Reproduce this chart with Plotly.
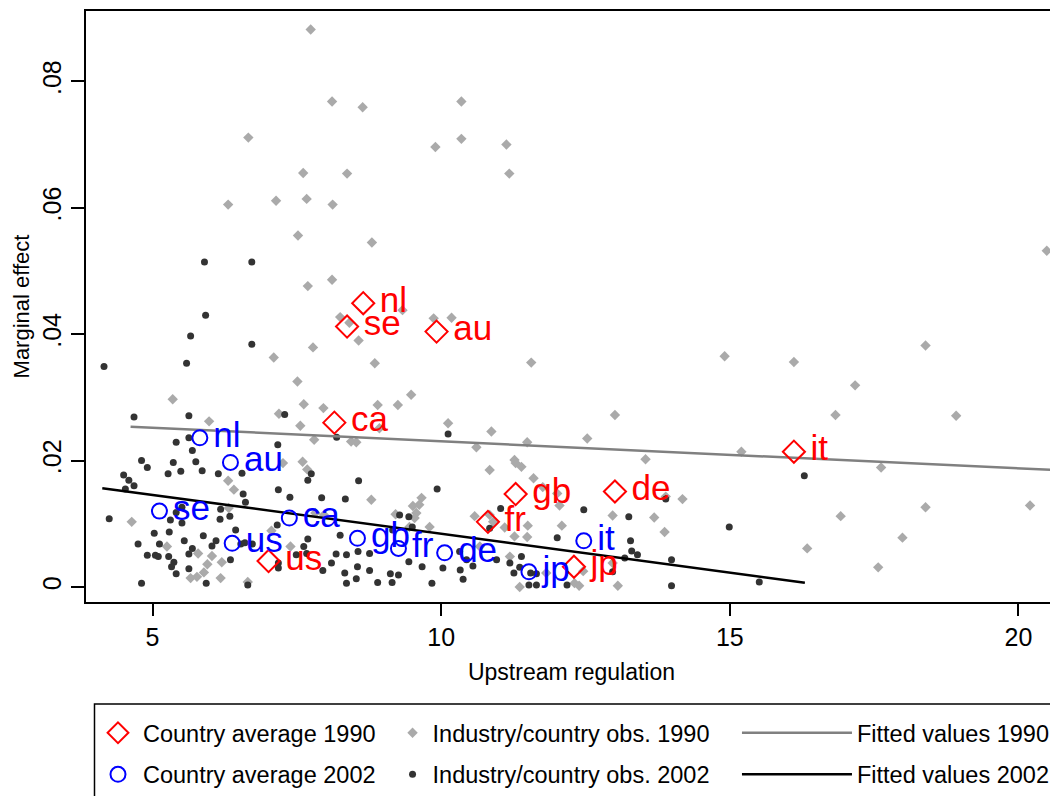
import plotly.graph_objects as go

# ---------------- data ----------------
obs1990_x = [7.74, 8.11, 8.64, 10.35, 9.90, 10.35, 11.13, 11.18, 6.66, 7.61,
             8.37, 6.31, 7.14, 7.67, 8.12, 7.52, 8.80, 8.11, 7.69, 8.25,
             8.41, 9.33, 9.87, 10.18, 8.57, 7.78, 7.10, 8.85, 11.56, 7.51,
             5.35, 7.62, 9.48, 8.90, 9.25, 14.91, 16.11, 18.39, 17.17, 16.83,
             18.92, 17.62, 16.92, 18.39, 20.20, 17.99, 17.57, 20.49, 13.01, 12.53,
             15.20, 13.54, 14.18, 13.89, 12.97, 13.69, 13.87, 16.34, 12.97, 12.46,
             12.39, 13.06,
             8.44, 8.53, 8.93, 10.12, 10.87, 10.61, 11.49, 11.27, 11.29, 11.39,
             10.84, 11.60, 11.76, 12.01, 12.05, 8.79, 9.66, 9.62, 9.51, 9.57,
             9.54, 9.21, 9.80, 9.45, 10.58, 10.84, 10.90, 11.10, 11.27, 11.50,
             11.49, 12.09, 10.67, 11.19, 11.82, 11.36, 12.31,
             5.98, 7.19, 7.96, 7.56, 7.80, 7.26, 7.60, 7.68, 6.31, 6.41,
             4.64, 6.32, 7.82, 7.97, 7.06, 5.25, 6.03, 5.79, 6.20, 5.95,
             5.89, 7.39, 5.66, 5.77, 6.18, 6.65]
obs1990_y = [0.0882, 0.0768, 0.0759, 0.0768, 0.0696, 0.0709, 0.0700, 0.0654, 0.0711, 0.0655,
             0.0654, 0.0605, 0.0611, 0.0614, 0.0605, 0.0556, 0.0545, 0.0486, 0.0476, 0.0427,
             0.0418, 0.0438, 0.0425, 0.0426, 0.0390, 0.0379, 0.0363, 0.0354, 0.0355, 0.0325,
             0.0297, 0.0289, 0.0304, 0.0288, 0.0288, 0.0365, 0.0356, 0.0382, 0.0319, 0.0272,
             0.0271, 0.0189, 0.0112, 0.0126, 0.0129, 0.0078, 0.0031, 0.0532, 0.0272, 0.0235,
             0.0214, 0.0202, 0.0139, 0.0143, 0.0113, 0.0110, 0.0087, 0.0061, 0.0038, 0.0025,
             0.0002, 0.0002,
             0.0230, 0.0229, 0.0251, 0.0259, 0.0246, 0.0221, 0.0229, 0.0201, 0.0196, 0.0190,
             0.0185, 0.0172, 0.0158, 0.0148, 0.0129, 0.0138, 0.0141, 0.0130, 0.0128, 0.0117,
             0.0109, 0.0115, 0.0095, 0.0095, 0.0112, 0.0114, 0.0103, 0.0094, 0.0080, 0.0097,
             0.0079, 0.0097, 0.0064, 0.0048, 0.0022, 0.0000, 0.0006,
             0.0262, 0.0274, 0.0283, 0.0255, 0.0233, 0.0196, 0.0198, 0.0186, 0.0168, 0.0154,
             0.0103, 0.0125, 0.0117, 0.0114, 0.0089, 0.0064, 0.0049, 0.0053, 0.0039, 0.0036,
             0.0023, 0.0064, 0.0014, 0.0016, 0.0014, 0.0008]

obs2002_x = [5.90, 6.72, 5.92, 5.66, 6.72, 5.59, 4.16, 4.68, 5.63, 7.29,
             5.41, 5.63, 5.69, 7.17, 4.81, 4.91, 5.36, 5.75, 5.27, 5.49,
             5.86, 6.14, 6.55, 4.50, 4.59, 4.68, 4.53, 7.75, 7.69, 7.18,
             6.57, 6.61, 7.38, 7.93, 4.25, 5.51, 5.41, 5.31, 5.51, 6.18,
             6.17, 6.34, 7.16, 5.03, 5.29, 5.88, 6.44, 5.55, 5.69, 6.03,
             6.10, 4.75, 5.12, 6.53, 6.60, 6.73, 4.91, 5.05, 5.10, 5.28,
             5.63, 6.35, 5.37, 5.33, 5.41, 5.63, 4.81, 5.93, 6.65, 7.18,
             7.18, 7.49, 7.62, 7.69, 7.67, 7.95, 8.10, 8.19, 10.12, 8.57,
             9.93, 8.34, 11.03, 9.28, 9.44, 9.50, 10.84, 9.16, 8.25, 12.01,
             8.18, 8.36, 8.56, 8.76,
             8.55, 8.76, 9.44, 9.67, 10.03, 10.33,
             10.44, 10.55, 10.32, 10.96, 11.19, 11.39, 8.33, 8.36, 8.53, 8.90,
             9.12, 9.26, 9.15, 9.84, 10.38, 11.26, 11.36, 11.55, 11.65, 11.52,
             11.65, 12.18, 16.29, 13.89, 12.47, 13.25, 14.99, 13.28, 13.30, 13.40,
             13.18, 13.99, 12.97, 13.99, 15.51]
obs2002_y = [0.0514, 0.0514, 0.0430, 0.0397, 0.0384, 0.0354, 0.0349, 0.0269, 0.0271, 0.0273,
             0.0229, 0.0236, 0.0216, 0.0225, 0.0200, 0.0189, 0.0197, 0.0198, 0.0179, 0.0183,
             0.0184, 0.0179, 0.0180, 0.0177, 0.0169, 0.0160, 0.0155, 0.0179, 0.0169, 0.0154,
             0.0147, 0.0134, 0.0142, 0.0141, 0.0108, 0.0126, 0.0118, 0.0106, 0.0101, 0.0123,
             0.0107, 0.0112, 0.0098, 0.0085, 0.0087, 0.0081, 0.0090, 0.0073, 0.0061, 0.0065,
             0.0073, 0.0068, 0.0068, 0.0068, 0.0070, 0.0068, 0.0050, 0.0050, 0.0048, 0.0048,
             0.0052, 0.0043, 0.0039, 0.0032, 0.0021, 0.0029, 0.0006, 0.0006, 0.0003, 0.0038,
             0.0030, 0.0051, 0.0064, 0.0076, 0.0053, 0.0026, 0.0038, 0.0237, 0.0242, 0.0168,
             0.0155, 0.0139, 0.0124, 0.0114, 0.0111, 0.0095, 0.0093, 0.0090, 0.0082, 0.0078,
             0.0052, 0.0051, 0.0056, 0.0053,
             0.0032, 0.0026, 0.0040, 0.0032, 0.0030, 0.0027,
             0.0043, 0.0033, 0.0056, 0.0043, 0.0038, 0.0048, 0.0022, 0.0006, 0.0013, 0.0007,
             0.0021, 0.0019, 0.0007, 0.0006, 0.0012, 0.0022, 0.0031, 0.0022, 0.0021, 0.0003,
             0.0003, 0.0003, 0.0176, 0.0139, 0.0122, 0.0111, 0.0095, 0.0073, 0.0057, 0.0051,
             0.0046, 0.0043, 0.0024, 0.0002, 0.0008]

countries = ["nl", "se", "au", "ca", "gb", "fr", "jp", "de", "it", "us"]
avg1990_x = [8.65, 8.37, 9.92, 8.15, 11.29, 10.81, 12.30, 13.01, 16.11, 7.01]
avg1990_y = [0.0449, 0.0412, 0.0404, 0.0260, 0.0147, 0.0103, 0.0032, 0.0151, 0.0214, 0.0041]
avg2002_x = [5.82, 5.12, 6.35, 7.37, 8.55, 9.26, 11.52, 10.06, 12.47, 6.38]
avg2002_y = [0.0236, 0.0120, 0.0197, 0.0109, 0.0077, 0.0061, 0.0024, 0.0054, 0.0073, 0.0069]

fit1990_x = [4.62, 20.55]
fit1990_y = [0.02536, 0.01853]
fit2002_x = [4.13, 16.30]
fit2002_y = [0.01563, 0.00068]

x_ticks = [5, 10, 15, 20]
y_ticks = [0, 0.02, 0.04, 0.06, 0.08]
y_ticktext = ["0", ".02", ".04", ".06", ".08"]

assert len(obs1990_x) == len(obs1990_y)
assert len(obs2002_x) == len(obs2002_y)

# ---------------- figure ----------------
FONT = "Liberation Sans, Arial, Helvetica, sans-serif"
fig = go.Figure()

fig.add_trace(go.Scatter(
    x=obs1990_x, y=obs1990_y, mode="markers", name="Industry/country obs. 1990",
    marker=dict(symbol="diamond", size=8, color="#aaaaaa"), legend="legend2",
    legendgroup="o90", legendrank=1))
fig.add_trace(go.Scatter(
    x=obs2002_x, y=obs2002_y, mode="markers", name="Industry/country obs. 2002",
    marker=dict(symbol="circle", size=7, color="#333333"), legend="legend2",
    legendgroup="o02", legendrank=2))
fig.add_trace(go.Scatter(
    x=fit1990_x, y=fit1990_y, mode="lines", name="Fitted values 1990",
    line=dict(color="#808080", width=2.5), legend="legend3",
    legendgroup="f90", legendrank=1))
fig.add_trace(go.Scatter(
    x=fit2002_x, y=fit2002_y, mode="lines", name="Fitted values 2002",
    line=dict(color="#000000", width=2.5), legend="legend3",
    legendgroup="f02", legendrank=2))
fig.add_trace(go.Scatter(
    x=avg1990_x, y=avg1990_y, mode="markers", name="Country average 1990",
    marker=dict(symbol="diamond-open", size=17, color="#ff0000",
                line=dict(width=2, color="#ff0000")),
    legend="legend", legendgroup="a90", legendrank=1))
fig.add_trace(go.Scatter(
    x=avg2002_x, y=avg2002_y, mode="markers", name="Country average 2002",
    marker=dict(symbol="circle-open", size=15, color="#0000ff",
                line=dict(width=2, color="#0000ff")),
    legend="legend", legendgroup="a02", legendrank=2))
# country labels (invisible, wider markers give the label gap)
fig.add_trace(go.Scatter(
    x=avg1990_x, y=avg1990_y, mode="markers+text", text=countries,
    textposition="middle right", showlegend=False, hoverinfo="skip",
    textfont=dict(size=35, color="#ff0000", family=FONT),
    marker=dict(size=25, opacity=0, color="#ff0000")))
fig.add_trace(go.Scatter(
    x=avg2002_x, y=avg2002_y, mode="markers+text", text=countries,
    textposition="middle right", showlegend=False, hoverinfo="skip",
    textfont=dict(size=35, color="#0000ff", family=FONT),
    marker=dict(size=20, opacity=0, color="#0000ff")))

common_leg = dict(orientation="v", xanchor="left", yanchor="top",
                  bgcolor="rgba(0,0,0,0)", borderwidth=0, tracegroupgap=8,
                  font=dict(size=23.5, family=FONT, color="black"))
leg_y = -0.1844
fig.update_layout(
    width=1050, height=788,
    margin=dict(l=78, r=1, t=3, b=194, autoexpand=False),
    paper_bgcolor="white", plot_bgcolor="white",
    font=dict(family=FONT, color="black"),
    showlegend=True,
    legend=dict(x=0.0072, y=leg_y, itemwidth=40, **common_leg),
    legend2=dict(x=0.3157, y=leg_y, itemwidth=30, **common_leg),
    legend3=dict(x=0.6704, y=leg_y, itemwidth=110, **common_leg),
    xaxis=dict(range=[3.848, 20.667], tickvals=x_ticks, ticks="outside",
               ticklen=12, tickwidth=1.5, tickcolor="black",
               showline=True, linecolor="black", linewidth=1.5, mirror=True,
               showgrid=False, zeroline=False, automargin=False,
               tickfont=dict(size=25, family=FONT),
               title=dict(text="Upstream regulation", font=dict(size=23, family=FONT),
                          standoff=14)),
    yaxis=dict(range=[-0.00238, 0.09113], tickvals=y_ticks, ticktext=y_ticktext,
               tickangle=-90, ticks="outside", ticklen=13, tickwidth=1.5,
               tickcolor="black", showline=True, linecolor="black", linewidth=1.5,
               mirror=True, showgrid=False, zeroline=False, automargin=False,
               tickfont=dict(size=25, family=FONT),
               title=dict(text="Marginal effect", font=dict(size=22, family=FONT),
                          standoff=3)),
    shapes=[dict(type="rect", xref="paper", yref="paper",
                 x0=0.00875, x1=0.99897, y0=-0.1727, y1=-0.36,
                 line=dict(color="black", width=1.5), fillcolor="rgba(0,0,0,0)")],
)

fig.write_html("out.html")
